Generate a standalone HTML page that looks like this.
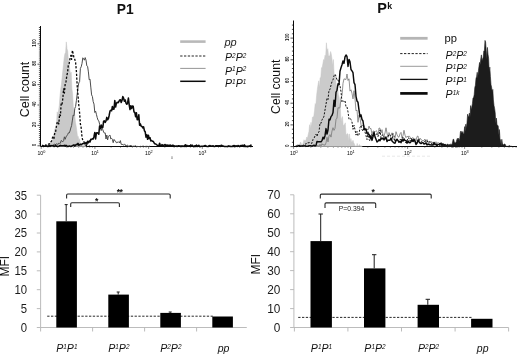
<!DOCTYPE html>
<html lang="en"><head><meta charset="utf-8"><title>P1 and Pk expression</title>
<style>html,body{margin:0;padding:0;background:#fff;}svg{display:block;}text{font-family:'Liberation Sans', sans-serif;}</style>
</head><body>
<svg width="520" height="354" viewBox="0 0 520 354">
<rect width="520" height="354" fill="#fff"/>
<text x="125.3" y="13.6" font-size="13.8" font-weight="bold" text-anchor="middle" fill="#111">P1</text>
<text x="377.2" y="13.4" font-size="14.5" font-weight="bold" fill="#111">P<tspan font-size="8.8" dx="0.3" dy="-4.5">k</tspan></text>
<path d="M40.5 26 V146.5 H253" fill="none" stroke="#0a0a0a" stroke-width="1"/>
<path d="M37.5 145.8h3M38.9 143.8h1.6M38.9 141.7h1.6M38.9 139.7h1.6M38.9 137.6h1.6M38.9 135.6h1.6M38.9 133.6h1.6M38.9 131.5h1.6M38.9 129.5h1.6M38.9 127.4h1.6M37.5 125.4h3M38.9 123.4h1.6M38.9 121.3h1.6M38.9 119.3h1.6M38.9 117.2h1.6M38.9 115.2h1.6M38.9 113.2h1.6M38.9 111.1h1.6M38.9 109.1h1.6M38.9 107h1.6M37.5 105h3M38.9 103h1.6M38.9 100.9h1.6M38.9 98.9h1.6M38.9 96.8h1.6M38.9 94.8h1.6M38.9 92.8h1.6M38.9 90.7h1.6M38.9 88.7h1.6M38.9 86.6h1.6M37.5 84.6h3M38.9 82.6h1.6M38.9 80.5h1.6M38.9 78.5h1.6M38.9 76.4h1.6M38.9 74.4h1.6M38.9 72.4h1.6M38.9 70.3h1.6M38.9 68.3h1.6M38.9 66.2h1.6M37.5 64.2h3M38.9 62.2h1.6M38.9 60.1h1.6M38.9 58.1h1.6M38.9 56h1.6M38.9 54h1.6M38.9 52h1.6M38.9 49.9h1.6M38.9 47.9h1.6M38.9 45.8h1.6M37.5 43.8h3M38.9 41.8h1.6M38.9 39.7h1.6M38.9 37.7h1.6M38.9 35.6h1.6M38.9 33.6h1.6M38.9 31.6h1.6M38.9 29.5h1.6M38.9 27.5h1.6" stroke="#0a0a0a" stroke-width="0.7" fill="none"/>
<path d="M41.2 146.5v2.4M57.4 146.5v1.2M66.8 146.5v1.2M73.5 146.5v1.2M78.7 146.5v1.2M83 146.5v1.2M86.6 146.5v1.2M89.7 146.5v1.2M92.4 146.5v1.2M94.9 146.5v2.4M111.1 146.5v1.2M120.5 146.5v1.2M127.2 146.5v1.2M132.4 146.5v1.2M136.7 146.5v1.2M140.3 146.5v1.2M143.4 146.5v1.2M146.1 146.5v1.2M148.6 146.5v2.4M164.8 146.5v1.2M174.2 146.5v1.2M180.9 146.5v1.2M186.1 146.5v1.2M190.4 146.5v1.2M194 146.5v1.2M197.1 146.5v1.2M199.8 146.5v1.2M202.3 146.5v2.4M218.5 146.5v1.2M227.9 146.5v1.2M234.6 146.5v1.2M239.8 146.5v1.2M244.1 146.5v1.2M247.7 146.5v1.2M250.8 146.5v1.2" stroke="#222" stroke-width="0.55" fill="none"/>
<text transform="translate(36.4 144.9) rotate(-90)" font-size="4.5" font-weight="bold" text-anchor="middle" fill="#111">0</text>
<text transform="translate(36.4 124.5) rotate(-90)" font-size="4.5" font-weight="bold" text-anchor="middle" fill="#111">20</text>
<text transform="translate(36.4 104.1) rotate(-90)" font-size="4.5" font-weight="bold" text-anchor="middle" fill="#111">40</text>
<text transform="translate(36.4 83.7) rotate(-90)" font-size="4.5" font-weight="bold" text-anchor="middle" fill="#111">60</text>
<text transform="translate(36.4 63.3) rotate(-90)" font-size="4.5" font-weight="bold" text-anchor="middle" fill="#111">80</text>
<text transform="translate(36.4 42.9) rotate(-90)" font-size="4.5" font-weight="bold" text-anchor="middle" fill="#111">100</text>
<text x="41.4" y="155.3" font-size="5.1" text-anchor="middle" fill="#000">10<tspan font-size="3.8" dy="-2">0</tspan></text>
<text x="95.1" y="155.3" font-size="5.1" text-anchor="middle" fill="#000">10<tspan font-size="3.8" dy="-2">1</tspan></text>
<text x="148.8" y="155.3" font-size="5.1" text-anchor="middle" fill="#000">10<tspan font-size="3.8" dy="-2">2</tspan></text>
<text x="202.5" y="155.3" font-size="5.1" text-anchor="middle" fill="#000">10<tspan font-size="3.8" dy="-2">3</tspan></text>
<text transform="translate(28.6 89.5) rotate(-90)" font-size="12.5" text-anchor="middle" fill="#111">Cell count</text>
<path d="M46 146.4 L46.7 145.8 L47.4 145.2 L48.1 145.9 L48.8 146.3 L49.5 144.7 L50.2 143.4 L50.9 141.7 L51.6 143.7 L52.3 142.7 L53 137.5 L53.7 135.6 L54.4 130.5 L55.1 128.5 L55.8 127.7 L56.5 124.1 L57.2 111.8 L57.9 114.5 L58.6 110.3 L59.3 105.3 L60 95.8 L60.7 89.4 L61.4 84.5 L62.1 77.6 L62.8 71 L63.5 64.4 L64.2 57.8 L64.9 53.8 L65.6 52.6 L66.3 41.9 L67 48.9 L67.7 50.8 L68.4 60.5 L69.1 62.2 L69.8 70.1 L70.5 73.8 L71.2 72.3 L71.9 88.7 L72.6 93.7 L73.3 106.7 L74 110.7 L74.7 114.4 L75.4 122.1 L76.1 125.8 L76.8 130.7 L77.5 136.8 L78.2 136.3 L78.9 141.1 L79.6 138.7 L80.3 143.6 L81 143.2 L81.7 144.7 L82.4 144.5 L83.1 146.1 L83.8 145.4 L84.5 146.2 L85.2 145.7 L85.9 146.1 L85.9 146.5 L46 146.5 Z" fill="#c9c9c9" stroke="#c4c4c4" stroke-width="0.5"/>
<path d="M42 146.4 L42.8 146.4 L43.6 146.5 L44.4 146.5 L45.2 146.1 L46 146.3 L46.8 146.4 L47.6 145.7 L48.4 146.4 L49.2 146.5 L50 146.5 L50.8 146.2 L51.6 145.6 L52.4 145.4 L53.2 145 L54 144.4 L54.8 144.2 L55.6 144.6 L56.4 143.9 L57.2 144 L58 144.6 L58.8 143.1 L59.6 143.4 L60.4 143.2 L61.2 140.5 L62 141.1 L62.8 141.8 L63.6 140.7 L64.4 136.8 L65.2 139.3 L66 136.9 L66.8 135.8 L67.6 134.6 L68.4 132.9 L69.2 133 L70 131 L70.8 128 L71.6 125.6 L72.4 120.1 L73.2 115 L74 115.8 L74.8 108.4 L75.6 106.5 L76.4 100.6 L77.2 94.1 L78 87.6 L78.8 82.9 L79.6 81.6 L80.4 68.3 L81.2 66.8 L82 63.5 L82.8 57.8 L83.6 58.7 L84.4 60.2 L85.2 57.6 L86 60.1 L86.8 65.8 L87.6 66.4 L88.4 71.9 L89.2 79.8 L90 79.1 L90.8 87.1 L91.6 94.9 L92.4 96.5 L93.2 101.7 L94 104.1 L94.8 112.5 L95.6 111.1 L96.4 114.3 L97.2 117.5 L98 120.1 L98.8 120.9 L99.6 124.1 L100.4 127.1 L101.2 130.6 L102 128.2 L102.8 129.7 L103.6 132 L104.4 133.1 L105.2 132.9 L106 139 L106.8 135 L107.6 140 L108.4 136.3 L109.2 135.7 L110 135.1 L110.8 139 L111.6 138.3 L112.4 139.4 L113.2 142.7 L114 139.4 L114.8 140.8 L115.6 141.2 L116.4 142.8 L117.2 142.2 L118 142.5 L118.8 141.7 L119.6 143 L120.4 140.6 L121.2 144.3 L122 144.4 L122.8 144.5 L123.6 145.3 L124.4 143.9 L125.2 144.7 L126 146.1 L126.8 145.4 L127.6 145 L128.4 146.5 L129.2 145.8 L130 146.1 L130.8 145.1 L131.6 145.9 L132.4 146.3 L133.2 146.4 L134 145.7 L134.8 146.4 L135.6 145.7 L136.4 146.4 L137.2 146.4 L138 146.5 L138.8 146.5 L139.6 146.5 L140.4 146.3 L141.2 146.5 L142 146.4 L142.8 146.2 L143.6 146.2 L144.4 146.5 L145.2 146.4 L146 146.4 L146.8 146.3 L147.6 146.4 L148.4 146.5 L149.2 146.2 L150 146.5" fill="none" stroke="#4c4c4c" stroke-width="1" stroke-linejoin="round"/>
<path d="M42 146.2 L42.8 145.4 L43.6 146.4 L44.4 146.4 L45.2 145.4 L46 144.8 L46.8 144.6 L47.6 144.1 L48.4 144.1 L49.2 144 L50 143.5 L50.8 142 L51.6 141.1 L52.4 137.8 L53.2 136.6 L54 138.4 L54.8 132.5 L55.6 131.7 L56.4 126.4 L57.2 122.5 L58 121.7 L58.8 124 L59.6 114.2 L60.4 115.6 L61.2 103.5 L62 104.6 L62.8 98.7 L63.6 88.9 L64.4 93 L65.2 83.7 L66 81.7 L66.8 75.8 L67.6 72.2 L68.4 64.5 L69.2 63.4 L70 58.7 L70.8 55.5 L71.6 59.4 L72.4 50.4 L73.2 53.9 L74 58.1 L74.8 59.4 L75.6 62.5 L76.4 71.3 L77.2 86.1 L78 95 L78.8 105.3 L79.6 112.9 L80.4 124 L81.2 127.9 L82 137.2 L82.8 140.4 L83.6 141 L84.4 142.9 L85.2 144.9 L86 145.1 L86.8 145.8 L87.6 145.9 L88.4 145.9 L89.2 146.3 L90 146.2" fill="none" stroke="#0a0a0a" stroke-width="1.3" stroke-dasharray="2.2 1.6" stroke-linejoin="round"/>
<path d="M42 145.4 L42.8 145.6 L43.6 146.4 L44.4 146.3 L45.2 146.2 L46 145.7 L46.8 146.2 L47.6 146.4 L48.4 146.4 L49.2 145.3 L50 146.4 L50.8 145.5 L51.6 145.8 L52.4 145.8 L53.2 145.7 L54 146.4 L54.8 146.2 L55.6 145.1 L56.4 146.3 L57.2 146.3 L58 146.4 L58.8 146.3 L59.6 145.7 L60.4 145.4 L61.2 145.7 L62 145.7 L62.8 145.7 L63.6 145.8 L64.4 145.4 L65.2 146.1 L66 145.3 L66.8 146 L67.6 146.4 L68.4 146.4 L69.2 146 L70 146.1 L70.8 146.5 L71.6 146.2 L72.4 145.5 L73.2 145.3 L74 144.9 L74.8 146.1 L75.6 145 L76.4 144.4 L77.2 144.8 L78 143.4 L78.8 145.3 L79.6 144.7 L80.4 144.3 L81.2 144.7 L82 144.1 L82.8 143.5 L83.6 143.5 L84.4 143.8 L85.2 143.4 L86 142.6 L86.8 144.2 L87.6 141.3 L88.4 142.8 L89.2 141 L90 141.9 L90.8 139.3 L91.6 139.5 L92.4 138.7 L93.2 138.9 L94 136.5 L94.8 132.5 L95.6 139 L96.4 133 L97.2 132.7 L98 133.1 L98.8 134.3 L99.6 126 L100.4 128.5 L101.2 125.1 L102 127.6 L102.8 127.5 L103.6 121.3 L104.4 120.9 L105.2 122.4 L106 120.9 L106.8 117.4 L107.6 119.8 L108.4 118.6 L109.2 115.2 L110 111.1 L110.8 110.2 L111.6 110.8 L112.4 106.5 L113.2 109.3 L114 109.1 L114.8 100.5 L115.6 107 L116.4 103.2 L117.2 102.4 L118 102.8 L118.8 101.8 L119.6 100 L120.4 99.8 L121.2 102.4 L122 100.5 L122.8 96.6 L123.6 98.2 L124.4 101.2 L125.2 100 L126 103.1 L126.8 104.3 L127.6 102.9 L128.4 98 L129.2 104.8 L130 109.5 L130.8 105.7 L131.6 108.5 L132.4 106.1 L133.2 106.3 L134 112 L134.8 112.4 L135.6 116.7 L136.4 112.8 L137.2 119.7 L138 119.4 L138.8 114.8 L139.6 125.3 L140.4 124 L141.2 126.2 L142 126.4 L142.8 127.9 L143.6 126.8 L144.4 130.7 L145.2 131.8 L146 137.1 L146.8 134.7 L147.6 139.3 L148.4 135.3 L149.2 138.6 L150 137.7 L150.8 140.9 L151.6 140.5 L152.4 141.3 L153.2 141.3 L154 142.7 L154.8 143.8 L155.6 143.9 L156.4 144.5 L157.2 145.1 L158 145.6 L158.8 146 L159.6 143.2 L160.4 145.7 L161.2 146.1 L162 144.6 L162.8 145.3 L163.6 145.7 L164.4 144.9 L165.2 144.5 L166 146.3 L166.8 145 L167.6 145.5 L168.4 145.2 L169.2 146.3 L170 145 L170.8 145.4 L171.6 146.2 L172.4 145.3 L173.2 145.3 L174 146.4 L174.8 145.9 L175.6 146.2 L176.4 146 L177.2 146.5 L178 145.7 L178.8 145.7 L179.6 146.1 L180.4 146.1 L181.2 146.4 L182 145.8 L182.8 146.4 L183.6 146.1 L184.4 146.5 L185.2 144.7 L186 146.1 L186.8 145.3 L187.6 146.1 L188.4 146.1 L189.2 145.7 L190 146.1 L190.8 144.9 L191.6 146.2 L192.4 145.2 L193.2 146.4 L194 146.5 L194.8 145.7 L195.6 146.4 L196.4 145.1 L197.2 145.8 L198 146 L198.8 145.2 L199.6 146.4 L200.4 146.5 L201.2 146.2 L202 146.3 L202.8 146.3 L203.6 146.3 L204.4 145.7 L205.2 145.6 L206 145.9 L206.8 146.4 L207.6 146.5 L208.4 146.4 L209.2 145.7 L210 145.5 L210.8 146.2 L211.6 146.1 L212.4 146 L213.2 145.7 L214 146.5 L214.8 146.5 L215.6 145.7 L216.4 145.8 L217.2 145.8 L218 146.1 L218.8 145.7 L219.6 145.8 L220.4 146.4 L221.2 145.2 L222 145.5 L222.8 146.2 L223.6 146.1 L224.4 146.5 L225.2 146.4 L226 146.5 L226.8 146.4 L227.6 146.4 L228.4 145.9 L229.2 146.1 L230 146.4 L230.8 146.2 L231.6 146.4 L232.4 146.4 L233.2 145.5 L234 146.5 L234.8 145.6 L235.6 146.4 L236.4 145.9 L237.2 146.5 L238 145.6 L238.8 145.9 L239.6 146.5 L240.4 145.8 L241.2 145.4 L242 145.4 L242.8 145.3 L243.6 146.3 L244.4 144.9 L245.2 146.4 L246 146.2 L246.8 146.4 L247.6 146.2 L248.4 146.4 L249.2 146 L250 146.3 L250.8 145.1 L251.6 145.7" fill="none" stroke="#0a0a0a" stroke-width="1.55" stroke-linejoin="round"/>
<path d="M180.2 41.6H205.6" stroke="#b9b9b9" stroke-width="2.6"/>
<path d="M180.2 56H205.6" stroke="#222" stroke-width="1" stroke-dasharray="2.3 1.5"/>
<path d="M180.2 68.4H205.6" stroke="#8a8a8a" stroke-width="0.9"/>
<path d="M180.2 81.3H205.6" stroke="#0a0a0a" stroke-width="1.5"/>
<text x="224.4" y="45.7" font-size="11" font-style="italic" fill="#222">pp</text>
<text x="225" y="61.4" font-size="10.6" font-style="italic" fill="#111" text-anchor="start"><tspan dy="-0">P</tspan><tspan font-size="6.4" dy="-3.1">2</tspan><tspan dy="3.1">P</tspan><tspan font-size="6.4" dy="-3.1">2</tspan></text>
<text x="225" y="74.5" font-size="10.6" font-style="italic" fill="#111" text-anchor="start"><tspan dy="-0">P</tspan><tspan font-size="6.4" dy="-3.1">1</tspan><tspan dy="3.1">P</tspan><tspan font-size="6.4" dy="-3.1">2</tspan></text>
<text x="225" y="86.7" font-size="10.6" font-style="italic" fill="#111" text-anchor="start"><tspan dy="-0">P</tspan><tspan font-size="6.4" dy="-3.1">1</tspan><tspan dy="3.1">P</tspan><tspan font-size="6.4" dy="-3.1">1</tspan></text>
<text x="171" y="158.6" font-size="3.6" fill="#555">0</text>
<path d="M293.5 20.5 V146.5 H517" fill="none" stroke="#0a0a0a" stroke-width="1"/>
<path d="M290.5 146.6h3M291.9 142.3h1.6M291.9 137.9h1.6M291.9 133.6h1.6M291.9 129.2h1.6M290.5 124.9h3M291.9 120.6h1.6M291.9 116.2h1.6M291.9 111.9h1.6M291.9 107.5h1.6M290.5 103.2h3M291.9 98.9h1.6M291.9 94.5h1.6M291.9 90.2h1.6M291.9 85.8h1.6M290.5 81.5h3M291.9 77.2h1.6M291.9 72.8h1.6M291.9 68.5h1.6M291.9 64.1h1.6M290.5 59.8h3M291.9 55.5h1.6M291.9 51.1h1.6M291.9 46.8h1.6M291.9 42.4h1.6M290.5 38.1h3M291.9 33.8h1.6M291.9 29.4h1.6M291.9 25.1h1.6" stroke="#0a0a0a" stroke-width="0.7" fill="none"/>
<path d="M293.6 146.5v2.4M310.8 146.5v1.2M320.8 146.5v1.2M327.9 146.5v1.2M333.4 146.5v1.2M338 146.5v1.2M341.8 146.5v1.2M345.1 146.5v1.2M348 146.5v1.2M350.6 146.5v2.4M367.8 146.5v1.2M377.8 146.5v1.2M384.9 146.5v1.2M390.4 146.5v1.2M395 146.5v1.2M398.8 146.5v1.2M402.1 146.5v1.2M405 146.5v1.2M407.6 146.5v2.4M424.8 146.5v1.2M434.8 146.5v1.2M441.9 146.5v1.2M447.4 146.5v1.2M452 146.5v1.2M455.8 146.5v1.2M459.1 146.5v1.2M462 146.5v1.2M464.6 146.5v2.4M481.8 146.5v1.2M491.8 146.5v1.2M498.9 146.5v1.2M504.4 146.5v1.2M509 146.5v1.2M512.8 146.5v1.2M516.1 146.5v1.2" stroke="#222" stroke-width="0.55" fill="none"/>
<text transform="translate(289.4 145.7) rotate(-90)" font-size="4.5" font-weight="bold" text-anchor="middle" fill="#111">0</text>
<text transform="translate(289.4 124) rotate(-90)" font-size="4.5" font-weight="bold" text-anchor="middle" fill="#111">20</text>
<text transform="translate(289.4 102.3) rotate(-90)" font-size="4.5" font-weight="bold" text-anchor="middle" fill="#111">40</text>
<text transform="translate(289.4 80.6) rotate(-90)" font-size="4.5" font-weight="bold" text-anchor="middle" fill="#111">60</text>
<text transform="translate(289.4 58.9) rotate(-90)" font-size="4.5" font-weight="bold" text-anchor="middle" fill="#111">80</text>
<text transform="translate(289.4 37.2) rotate(-90)" font-size="4.5" font-weight="bold" text-anchor="middle" fill="#111">100</text>
<text x="293.8" y="155.3" font-size="5.1" text-anchor="middle" fill="#000">10<tspan font-size="3.8" dy="-2">0</tspan></text>
<text x="350.8" y="155.3" font-size="5.1" text-anchor="middle" fill="#000">10<tspan font-size="3.8" dy="-2">1</tspan></text>
<text x="407.8" y="155.3" font-size="5.1" text-anchor="middle" fill="#000">10<tspan font-size="3.8" dy="-2">2</tspan></text>
<text x="464.8" y="155.3" font-size="5.1" text-anchor="middle" fill="#000">10<tspan font-size="3.8" dy="-2">3</tspan></text>
<text transform="translate(280.4 86.8) rotate(-90)" font-size="12.2" text-anchor="middle" fill="#111">Cell count</text>
<path d="M297 144.9 L297.7 144.1 L298.4 146.2 L299.1 146.2 L299.8 144.3 L300.5 142 L301.2 143.5 L301.9 145.6 L302.6 144.5 L303.3 142.6 L304 139.7 L304.7 140.9 L305.4 140.8 L306.1 139.4 L306.8 137 L307.5 138.3 L308.2 134.5 L308.9 131.8 L309.6 124.7 L310.3 128.7 L311 122.3 L311.7 127.4 L312.4 117.2 L313.1 116.9 L313.8 116.3 L314.5 110.8 L315.2 103.6 L315.9 104.6 L316.6 95.4 L317.3 89.4 L318 84.9 L318.7 80.8 L319.4 88 L320.1 77.7 L320.8 77.7 L321.5 67.7 L322.2 67.5 L322.9 63.6 L323.6 59.5 L324.3 60.6 L325 55.2 L325.7 55.9 L326.4 42.8 L327.1 51.2 L327.8 48.7 L328.5 55.9 L329.2 56 L329.9 55.4 L330.6 51.5 L331.3 54.3 L332 59.2 L332.7 65.9 L333.4 59.5 L334.1 74.1 L334.8 77.2 L335.5 75.8 L336.2 85.6 L336.9 84.7 L337.6 86.1 L338.3 94.3 L339 96.5 L339.7 101.9 L340.4 108.5 L341.1 122 L341.8 117.9 L342.5 116.6 L343.2 126.1 L343.9 124.9 L344.6 124.6 L345.3 122.8 L346 135.4 L346.7 134.2 L347.4 133.5 L348.1 134.3 L348.8 141.4 L349.5 133.9 L350.2 141.9 L350.9 138.5 L351.6 142.3 L352.3 141.8 L353 140.3 L353.7 142.7 L354.4 144.1 L355.1 146.1 L355.8 145.9 L356.5 146.4 L357.2 143.4 L357.9 146.3 L358.6 146 L359.3 144.6 L360 145.1 L360.7 146.4 L361.4 145.7 L362.1 146.4 L362.1 146.5 L297 146.5 Z" fill="#cbcbcb" stroke="#c6c6c6" stroke-width="0.5"/>
<path d="M296 146.4 L297 146.5 L298 145.8 L299 146.4 L300 146.5 L301 146.4 L302 146.5 L303 146.5 L304 146.4 L305 146.5 L306 146.3 L307 146.5 L308 146.4 L309 146.4 L310 146.4 L311 146.3 L312 146.5 L313 146.5 L314 146 L315 146.4 L316 146.4 L317 145.8 L318 145.5 L319 146.4 L320 144.3 L321 146 L322 143.7 L323 145 L324 144.7 L325 145.3 L326 142.9 L327 137.3 L328 141.9 L329 135.9 L330 134.6 L331 137.1 L332 131 L333 127.7 L334 130.4 L335 128.3 L336 119.4 L337 118.1 L338 107.6 L339 108.1 L340 107.7 L341 97.9 L342 95.6 L343 83.4 L344 78.8 L345 79.3 L346 79.5 L347 74 L348 80.5 L349 78.8 L350 91.1 L351 89.8 L352 93.4 L353 98.9 L354 90.7 L355 98.7 L356 110.9 L357 110.1 L358 122.3 L359 114.9 L360 117.9 L361 124.5 L362 126 L363 125.1 L364 125.2 L365 128.6 L366 130.7 L367 129.1 L368 130 L369 126.1 L370 128.7 L371 128.5 L372 135 L373 131 L374 131.2 L375 131.8 L376 130.7 L377 131.5 L378 135.6 L379 128 L380 128.3 L381 133 L382 129.7 L383 134.7 L384 136 L385 132.9 L386 127.8 L387 133.1 L388 137.5 L389 132.5 L390 135.1 L391 135.7 L392 132.8 L393 139 L394 139.4 L395 138.6 L396 131.7 L397 134.6 L398 136.8 L399 137.2 L400 133.8 L401 132.4 L402 137.9 L403 135.5 L404 130.3 L405 135.1 L406 137.7 L407 136.2 L408 137 L409 135.9 L410 136.9 L411 139.1 L412 138.4 L413 137.5 L414 140.2 L415 138.6 L416 141.1 L417 136.5 L418 136 L419 141.5 L420 138.1 L421 139.7 L422 140.1 L423 141 L424 140.2 L425 139 L426 143.5 L427 139.5 L428 142.1 L429 143.8 L430 142.1 L431 141.1 L432 142.6 L433 142.2 L434 143.4 L435 143.9 L436 141.7 L437 144.9 L438 142.3 L439 143.4 L440 144.5 L441 144.6 L442 144.9 L443 144.8 L444 145 L445 145.3 L446 146.3 L447 146.2 L448 145.4 L449 146.4 L450 146.5 L451 146.4 L452 146.4 L453 146.2 L454 146.5 L455 146.5 L456 146.4 L457 146.3 L458 146.4" fill="none" stroke="#777" stroke-width="0.8" stroke-linejoin="round"/>
<path d="M296 145.3 L297 146.4 L298 146 L299 146.2 L300 146.5 L301 146.2 L302 146 L303 145.5 L304 144.8 L305 143.8 L306 144.2 L307 142.7 L308 142.9 L309 142.7 L310 142.5 L311 143 L312 143.3 L313 139.4 L314 138.4 L315 135.9 L316 134.2 L317 136.4 L318 133 L319 132 L320 123.1 L321 123.4 L322 119.5 L323 118.9 L324 116.1 L325 110 L326 104.3 L327 98.3 L328 99.7 L329 90 L330 89.6 L331 85.1 L332 81.7 L333 79.8 L334 75.8 L335 74.1 L336 76.2 L337 80.2 L338 79.8 L339 83.1 L340 85.6 L341 91.7 L342 102 L343 100.6 L344 101.7 L345 100.6 L346 106.8 L347 106.9 L348 111.9 L349 119.2 L350 118.4 L351 119.4 L352 122 L353 129.3 L354 125.3 L355 129.6 L356 135.1 L357 131.4 L358 136 L359 134.6 L360 127.6 L361 125.3 L362 129.4 L363 131.3 L364 127.7 L365 132 L366 135.7 L367 139.6 L368 131.2 L369 139.4 L370 141 L371 135.6 L372 134 L373 136.5 L374 131.9 L375 134.9 L376 134.3 L377 133.9 L378 136.5 L379 134.8 L380 129.9 L381 137.8 L382 135.4 L383 134.7 L384 137.3 L385 136.4 L386 140.3 L387 137.6 L388 136.6 L389 134.4 L390 134.9 L391 138.5 L392 139.8 L393 133.6 L394 135.8 L395 141.9 L396 138.7 L397 140.1 L398 139.6 L399 142 L400 139.5 L401 139.8 L402 139.4 L403 137.1 L404 138.8 L405 141.8 L406 142.9 L407 140.8 L408 137.7 L409 138.3 L410 141.3 L411 138.3 L412 139.8 L413 141.8 L414 140.1 L415 141.1 L416 143.1 L417 142 L418 141.2 L419 139.4 L420 143.5 L421 141.6 L422 142.1 L423 142.3 L424 144.3 L425 140.7 L426 140.8 L427 140.5 L428 142.3 L429 141.1 L430 142.6 L431 142.1 L432 144.1 L433 143.5 L434 144.3 L435 145.4 L436 144.7 L437 145.7 L438 145.8 L439 145.1 L440 145.4 L441 142.9 L442 143.4 L443 144.3 L444 144.7 L445 146.3 L446 145.5 L447 146.4 L448 146.4 L449 146.4 L450 146.4 L451 146 L452 146.5 L453 146.1 L454 146.5 L455 146.4 L456 146.4 L457 146.4 L458 146.4" fill="none" stroke="#111" stroke-width="1.0" stroke-dasharray="2 1.5" stroke-linejoin="round"/>
<path d="M296 146.5 L297 146.4 L298 146 L299 145.4 L300 146.2 L301 145.9 L302 145.9 L303 146 L304 145.9 L305 145.7 L306 146.4 L307 146.3 L308 146.3 L309 145.6 L310 145.6 L311 145.8 L312 146.2 L313 145.6 L314 145.2 L315 145.9 L316 145.4 L317 141.5 L318 141.8 L319 141.7 L320 141.6 L321 141.9 L322 140.6 L323 137.2 L324 138.9 L325 135.7 L326 128.6 L327 134.1 L328 130 L329 119.2 L330 119.9 L331 116.6 L332 115.4 L333 112.6 L334 100.2 L335 106.4 L336 92.3 L337 90.2 L338 83.8 L339 84.7 L340 71.2 L341 67.7 L342 64.7 L343 60.9 L344 63.4 L345 56.9 L346 55 L347 56.5 L348 66.4 L349 59.4 L350 61.8 L351 69.5 L352 70.9 L353 72.7 L354 82.6 L355 84.6 L356 96.3 L357 101 L358 102.3 L359 110.1 L360 116.8 L361 114.8 L362 119.5 L363 121 L364 128.3 L365 129.5 L366 129 L367 133.5 L368 134.2 L369 134.2 L370 137.5 L371 136 L372 140.4 L373 136.5 L374 132.3 L375 136.9 L376 139.3 L377 142 L378 141.2 L379 139.6 L380 140.7 L381 138.3 L382 139.1 L383 137.9 L384 140 L385 138.1 L386 137.1 L387 141.5 L388 140.1 L389 140.2 L390 140.3 L391 138.1 L392 140.9 L393 142 L394 142.9 L395 143.2 L396 140.8 L397 139.2 L398 140.7 L399 142.3 L400 141.3 L401 142.7 L402 139.5 L403 141.1 L404 139 L405 140.4 L406 140.6 L407 143.2 L408 141 L409 142.5 L410 142.8 L411 141.8 L412 139.6 L413 141.5 L414 139.3 L415 141.4 L416 144.6 L417 143.4 L418 140 L419 142 L420 142.8 L421 143.6 L422 142.9 L423 142.6 L424 143.9 L425 143.5 L426 143.1 L427 145 L428 144 L429 144.7 L430 144.7 L431 145.1 L432 144.8 L433 145.2 L434 142.4 L435 144.6 L436 144.2 L437 145.5 L438 144.6 L439 144.4 L440 143.5 L441 143.5 L442 145.6 L443 143.8 L444 145.4 L445 144.6 L446 145.7 L447 145.3 L448 146 L449 146.4 L450 145.9 L451 146.4 L452 146.5 L453 146.4 L454 146.4 L455 146.1 L456 146.5 L457 146.5 L458 146.5" fill="none" stroke="#0a0a0a" stroke-width="1.45" stroke-linejoin="round"/>
<path d="M440 146.3 L440.6 145.5 L441.2 146.1 L441.8 146.5 L442.4 145.6 L443 146.4 L443.6 144.4 L444.2 145.5 L444.8 146 L445.4 145.1 L446 146.4 L446.6 145 L447.2 144.3 L447.8 144.1 L448.4 144.4 L449 146.2 L449.6 144.2 L450.2 146.4 L450.8 143.8 L451.4 144.8 L452 144.8 L452.6 141.8 L453.2 139.1 L453.8 139.5 L454.4 142.7 L455 142.4 L455.6 143.1 L456.2 141.9 L456.8 139.7 L457.4 138.3 L458 140 L458.6 138.2 L459.2 140.7 L459.8 138.3 L460.4 132.1 L461 131 L461.6 132.6 L462.2 133 L462.8 131.5 L463.4 133.5 L464 134.2 L464.6 126.6 L465.2 131.4 L465.8 124.2 L466.4 128.5 L467 122.6 L467.6 114.2 L468.2 116.2 L468.8 116.7 L469.4 113.1 L470 117.6 L470.6 105.6 L471.2 109.6 L471.8 107 L472.4 103.8 L473 97.9 L473.6 97.8 L474.2 94.6 L474.8 87.4 L475.4 85.3 L476 78.3 L476.6 76.8 L477.2 72.3 L477.8 78.2 L478.4 70.7 L479 66.3 L479.6 62.4 L480.2 64.5 L480.8 58.7 L481.4 54.9 L482 60.8 L482.6 59 L483.2 57.3 L483.8 50.9 L484.4 50.7 L485 40.4 L485.6 42.1 L486.2 50.3 L486.8 59.2 L487.4 47.4 L488 54.2 L488.6 58.3 L489.2 72 L489.8 67.1 L490.4 76.4 L491 84.7 L491.6 87.2 L492.2 92.1 L492.8 89.4 L493.4 100 L494 105.6 L494.6 108.4 L495.2 112.7 L495.8 123.3 L496.4 118.1 L497 125 L497.6 125.2 L498.2 125.9 L498.8 135.1 L499.4 129.5 L500 138.9 L500.6 140.3 L501.2 145.7 L501.8 139.3 L502.4 143.3 L503 144.6 L503.6 145.1 L504.2 144 L504.8 143.9 L505.4 144.7 L506 146 L506.6 146.5 L507.2 146.2 L507.8 146.5 L508.4 146 L509 146.5 L509.6 145.4 L510.2 146 L510.8 146.5 L511.4 146.3 L512 146.4 L512 146.5 L440 146.5 Z" fill="#1c1c1c" stroke="#1c1c1c" stroke-width="0.6"/>
<path d="M400.2 38.3H427.6" stroke="#b5b5b5" stroke-width="2.8"/>
<path d="M400.2 53.6H427.6" stroke="#222" stroke-width="1" stroke-dasharray="2.3 1.5"/>
<path d="M400.2 66.3H427.6" stroke="#9a9a9a" stroke-width="1"/>
<path d="M400.2 79.4H427.6" stroke="#111" stroke-width="1.3"/>
<path d="M400.2 93.4H427.6" stroke="#0a0a0a" stroke-width="2.7"/>
<text x="444.6" y="41.8" font-size="11.2" fill="#111">pp</text>
<text x="445.6" y="58.7" font-size="10.6" font-style="italic" fill="#111" text-anchor="start"><tspan dy="-0">P</tspan><tspan font-size="6.4" dy="-3.1">2</tspan><tspan dy="3.1">P</tspan><tspan font-size="6.4" dy="-3.1">2</tspan></text>
<text x="445.6" y="72.2" font-size="10.6" font-style="italic" fill="#111" text-anchor="start"><tspan dy="-0">P</tspan><tspan font-size="6.4" dy="-3.1">1</tspan><tspan dy="3.1">P</tspan><tspan font-size="6.4" dy="-3.1">2</tspan></text>
<text x="445.6" y="85.1" font-size="10.6" font-style="italic" fill="#111" text-anchor="start"><tspan dy="-0">P</tspan><tspan font-size="6.4" dy="-3.1">1</tspan><tspan dy="3.1">P</tspan><tspan font-size="6.4" dy="-3.1">1</tspan></text>
<text x="445.6" y="98" font-size="10.6" font-style="italic" fill="#111" text-anchor="start"><tspan dy="-0">P</tspan><tspan font-size="6.4" dy="-3.1">1k</tspan></text>
<path d="M382 156.2H430" stroke="#e2e2e2" stroke-width="0.8" stroke-dasharray="3 2"/>
<path d="M40.6 195.2V327.5H246.8M40.6 327.5h-3.8M40.6 308.6h-3.8M40.6 289.7h-3.8M40.6 270.8h-3.8M40.6 251.9h-3.8M40.6 233h-3.8M40.6 214.1h-3.8M40.6 195.2h-3.8M40.6 327.5v4M92.6 327.5v4M144.6 327.5v4M196.6 327.5v4" fill="none" stroke="#b4b4b4" stroke-width="0.9"/>
<text transform="translate(27 331.9) scale(0.93 1)" font-size="12.2" text-anchor="end" fill="#1c1c1c">0</text>
<text transform="translate(27 313) scale(0.93 1)" font-size="12.2" text-anchor="end" fill="#1c1c1c">5</text>
<text transform="translate(27 294.1) scale(0.93 1)" font-size="12.2" text-anchor="end" fill="#1c1c1c">10</text>
<text transform="translate(27 275.2) scale(0.93 1)" font-size="12.2" text-anchor="end" fill="#1c1c1c">15</text>
<text transform="translate(27 256.3) scale(0.93 1)" font-size="12.2" text-anchor="end" fill="#1c1c1c">20</text>
<text transform="translate(27 237.4) scale(0.93 1)" font-size="12.2" text-anchor="end" fill="#1c1c1c">25</text>
<text transform="translate(27 218.5) scale(0.93 1)" font-size="12.2" text-anchor="end" fill="#1c1c1c">30</text>
<text transform="translate(27 199.6) scale(0.93 1)" font-size="12.2" text-anchor="end" fill="#1c1c1c">35</text>
<path d="M47.2 316.2H212.8" stroke="#111" stroke-width="0.9" stroke-dasharray="2.3 1.5"/>
<rect x="56.3" y="221.3" width="20.6" height="106.2" fill="#000"/>
<path d="M66.2 221.3V204.6M64.7 204.6h3" fill="none" stroke="#1c1c1c" stroke-width="1"/>
<rect x="108.3" y="294.6" width="20.6" height="32.9" fill="#000"/>
<path d="M118.2 294.6V292M116.7 292h3" fill="none" stroke="#1c1c1c" stroke-width="1"/>
<rect x="160.3" y="312.9" width="20.6" height="14.6" fill="#000"/>
<path d="M170.2 312.9V312M168.7 312h3" fill="none" stroke="#1c1c1c" stroke-width="1"/>
<rect x="212.3" y="316.5" width="20.6" height="11" fill="#000"/>
<text x="56.2" y="352" font-size="10.6" font-style="italic" fill="#111" text-anchor="start"><tspan dy="-0">P</tspan><tspan font-size="6.4" dy="-3.1">1</tspan><tspan dy="3.1">P</tspan><tspan font-size="6.4" dy="-3.1">1</tspan></text>
<text x="108.2" y="352" font-size="10.6" font-style="italic" fill="#111" text-anchor="start"><tspan dy="-0">P</tspan><tspan font-size="6.4" dy="-3.1">1</tspan><tspan dy="3.1">P</tspan><tspan font-size="6.4" dy="-3.1">2</tspan></text>
<text x="160.2" y="352" font-size="10.6" font-style="italic" fill="#111" text-anchor="start"><tspan dy="-0">P</tspan><tspan font-size="6.4" dy="-3.1">2</tspan><tspan dy="3.1">P</tspan><tspan font-size="6.4" dy="-3.1">2</tspan></text>
<text x="223.5" y="352.3" font-size="10.5" font-style="italic" text-anchor="middle" fill="#111">pp</text>
<text transform="translate(8.6 266.2) rotate(-90)" font-size="11.9" text-anchor="middle" fill="#111">MFI</text>
<path d="M66.6 198.6V195.2Q66.6 194 67.8 194H169V194Q170.2 194 170.2 195.2V198.6" fill="none" stroke="#2a2a2a" stroke-width="1.1"/>
<path d="M70.7 207V203.9Q70.7 202.7 71.9 202.7H118.2Q119.4 202.7 119.4 203.9V207" fill="none" stroke="#2a2a2a" stroke-width="1.1"/>
<text x="96.6" y="204" font-size="8.6" font-weight="bold" text-anchor="middle" fill="#111">*</text>
<text x="119.6" y="194.9" font-size="8.6" font-weight="bold" text-anchor="middle" fill="#111" letter-spacing="-0.5">**</text>
<path d="M293.9 194.8V327.5H508.6M293.9 327.5h-3.8M293.9 308.6h-3.8M293.9 289.6h-3.8M293.9 270.6h-3.8M293.9 251.7h-3.8M293.9 232.8h-3.8M293.9 213.8h-3.8M293.9 194.8h-3.8M294.4 327.5v4M347.9 327.5v4M401.5 327.5v4M455.1 327.5v4M508.6 327.5v4" fill="none" stroke="#b4b4b4" stroke-width="0.9"/>
<text transform="translate(280.3 331.9) scale(0.97 1)" font-size="12.2" text-anchor="end" fill="#1c1c1c">0</text>
<text transform="translate(280.3 312.9) scale(0.97 1)" font-size="12.2" text-anchor="end" fill="#1c1c1c">10</text>
<text transform="translate(280.3 294) scale(0.97 1)" font-size="12.2" text-anchor="end" fill="#1c1c1c">20</text>
<text transform="translate(280.3 275) scale(0.97 1)" font-size="12.2" text-anchor="end" fill="#1c1c1c">30</text>
<text transform="translate(280.3 256.1) scale(0.97 1)" font-size="12.2" text-anchor="end" fill="#1c1c1c">40</text>
<text transform="translate(280.3 237.2) scale(0.97 1)" font-size="12.2" text-anchor="end" fill="#1c1c1c">50</text>
<text transform="translate(280.3 218.2) scale(0.97 1)" font-size="12.2" text-anchor="end" fill="#1c1c1c">60</text>
<text transform="translate(280.3 199.2) scale(0.97 1)" font-size="12.2" text-anchor="end" fill="#1c1c1c">70</text>
<path d="M298.2 317.4H471.6" stroke="#111" stroke-width="0.9" stroke-dasharray="2.3 1.5"/>
<rect x="310.5" y="241.1" width="21.4" height="86.4" fill="#000"/>
<path d="M320.7 241.1V214M318.5 214h4.4" fill="none" stroke="#1c1c1c" stroke-width="1"/>
<rect x="364" y="268.4" width="21.4" height="59.1" fill="#000"/>
<path d="M374.2 268.4V254.7M372 254.7h4.4" fill="none" stroke="#1c1c1c" stroke-width="1"/>
<rect x="417.6" y="304.8" width="21.4" height="22.7" fill="#000"/>
<path d="M427.8 304.8V299.3M425.6 299.3h4.4" fill="none" stroke="#1c1c1c" stroke-width="1"/>
<rect x="471.1" y="318.8" width="21.4" height="8.7" fill="#000"/>
<text x="310.8" y="352" font-size="10.6" font-style="italic" fill="#111" text-anchor="start"><tspan dy="-0">P</tspan><tspan font-size="6.4" dy="-3.1">1</tspan><tspan dy="3.1">P</tspan><tspan font-size="6.4" dy="-3.1">1</tspan></text>
<text x="364.3" y="352" font-size="10.6" font-style="italic" fill="#111" text-anchor="start"><tspan dy="-0">P</tspan><tspan font-size="6.4" dy="-3.1">1</tspan><tspan dy="3.1">P</tspan><tspan font-size="6.4" dy="-3.1">2</tspan></text>
<text x="417.9" y="352" font-size="10.6" font-style="italic" fill="#111" text-anchor="start"><tspan dy="-0">P</tspan><tspan font-size="6.4" dy="-3.1">2</tspan><tspan dy="3.1">P</tspan><tspan font-size="6.4" dy="-3.1">2</tspan></text>
<text x="482.7" y="352.3" font-size="10.5" font-style="italic" text-anchor="middle" fill="#111">pp</text>
<text transform="translate(259.9 264.2) rotate(-90)" font-size="11.9" text-anchor="middle" fill="#111">MFI</text>
<path d="M320.3 198.6V195.3Q320.3 194.1 321.5 194.1H430Q431.2 194.1 431.2 195.3V198.6" fill="none" stroke="#2a2a2a" stroke-width="1.1"/>
<path d="M325 208.1V204.1Q325 202.9 326.2 202.9H374.5Q375.7 202.9 375.7 204.1V208.1" fill="none" stroke="#2a2a2a" stroke-width="1.1"/>
<text x="351.6" y="211.1" font-size="6.8" text-anchor="middle" fill="#1a1a1a">P=0.394</text>
<text x="373.2" y="195.3" font-size="8.6" font-weight="bold" text-anchor="middle" fill="#111">*</text>
</svg>
</body></html>
